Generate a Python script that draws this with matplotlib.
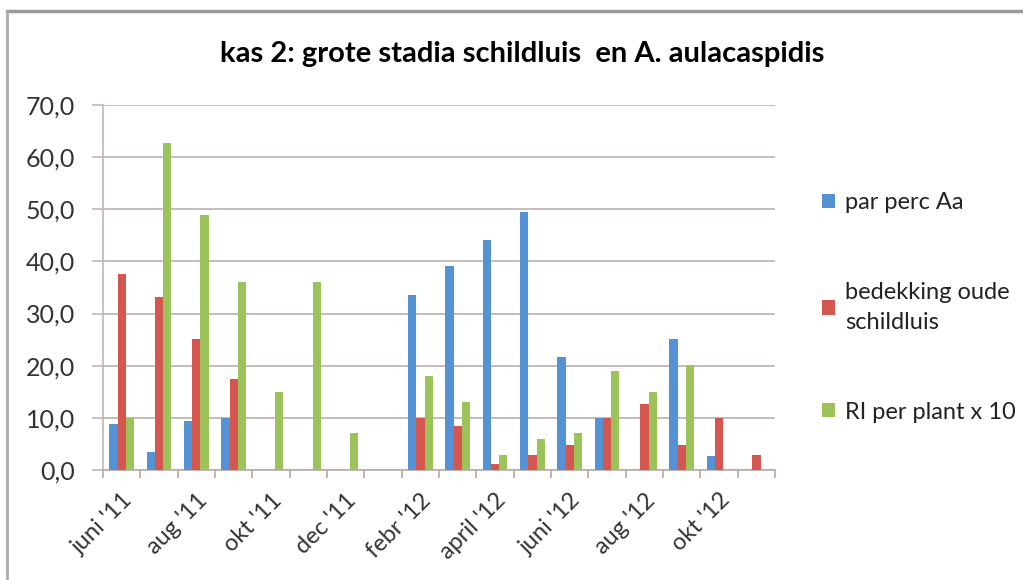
import matplotlib.pyplot as plt
import numpy as np
from matplotlib.lines import Line2D

# Maanden (juni '11 t/m nov '12)
maanden = ["juni '11", "juli '11", "aug '11", "sep '11", "okt '11", "nov '11",
           "dec '11", "jan '12", "febr '12", "maart '12", "april '12", "mei '12",
           "juni '12", "juli '12", "aug '12", "sep '12", "okt '12", "nov '12"]

par_perc_aa = [8.9, 3.4, 9.3, 9.9, 0, 0, 0, 0, 33.6, 39.1, 44.1, 49.4,
               21.7, 9.9, 0, 25.1, 2.6, 0]
bedekking = [37.6, 33.2, 25.1, 17.4, 0, 0, 0, 0, 9.9, 8.5, 1.1, 2.9,
             4.8, 9.9, 12.6, 4.8, 9.9, 2.9]
ri_plant = [9.9, 62.7, 48.9, 36.0, 15.0, 36.0, 7.0, 0, 18.0, 13.0, 2.9, 5.9,
            7.0, 18.9, 15.0, 20.1, 0, 0]

reeksen = ['par perc Aa', 'bedekking oude\nschildluis', 'RI per plant x 10']
kleuren = ['#5592d3', '#d5554f', '#9cc35a']

plt.rcParams['font.family'] = ['Lato', 'DejaVu Sans']

fig = plt.figure(figsize=(10.23, 5.80), dpi=100)
ax = fig.add_axes([0.1007, 0.1897, 0.6569, 0.6293])

x = np.arange(len(maanden))
w = 1 / 4.5
balken = []
for i, (vals, kleur) in enumerate(zip([par_perc_aa, bedekking, ri_plant], kleuren)):
    b = ax.bar(x + (i - 1) * w, vals, width=w, color=kleur, label=reeksen[i], zorder=3)
    balken.append(b)

ax.set_xlim(-0.5, len(maanden) - 0.5)
ax.set_ylim(0, 70)
ax.set_yticks(np.arange(0, 71, 10))
ax.set_yticklabels([f'{v:.1f}'.replace('.', ',') for v in np.arange(0, 71, 10)])
ax.grid(axis='y', color='#c2b5b3', linewidth=1.3, zorder=0)

# labels op elke tweede maand, tickstreepjes op de grenzen
ax.set_xticks(x[::2])
ax.set_xticklabels(maanden[::2], rotation=45, ha='right', va='top',
                   rotation_mode='anchor')
ax.set_xticks(np.arange(-0.5, len(maanden)), minor=True)
ax.tick_params(axis='x', which='major', length=0, pad=14, labelsize=17,
               labelcolor='#333333')
ax.tick_params(axis='x', which='minor', length=6, color='#b8aaa8', width=1.2)
ax.tick_params(axis='y', length=8, color='#c2b5b3', width=1.2, pad=12,
               labelsize=18, labelcolor='#333333')

for s in ['top', 'right']:
    ax.spines[s].set_visible(False)
ax.spines['left'].set_color('#c2b5b3')
ax.spines['bottom'].set_color('#b8aaa8')
ax.spines['left'].set_linewidth(1.2)
ax.spines['bottom'].set_linewidth(1.2)

fig.suptitle('kas 2: grote stadia schildluis  en A. aulacaspidis', x=0.51, y=0.93,
             fontsize=21, fontweight='bold')

leg = fig.legend(handles=balken, labels=reeksen, loc='center left',
                 bbox_to_anchor=(0.783, 0.47), frameon=False, fontsize=17,
                 handlelength=0.55, handleheight=0.55, handletextpad=0.4,
                 labelspacing=2.9, labelcolor='#222222')
for t in leg.get_texts():
    t.set_linespacing(1.55)

# rand van de grafiek
fig.add_artist(Line2D([0.007, 1.0], [0.981, 0.981], color='#999999', linewidth=2.5))
fig.add_artist(Line2D([0.007, 0.007], [0.0, 0.981], color='#aaaaaa', linewidth=2))

fig.savefig('out.png', dpi=100)
